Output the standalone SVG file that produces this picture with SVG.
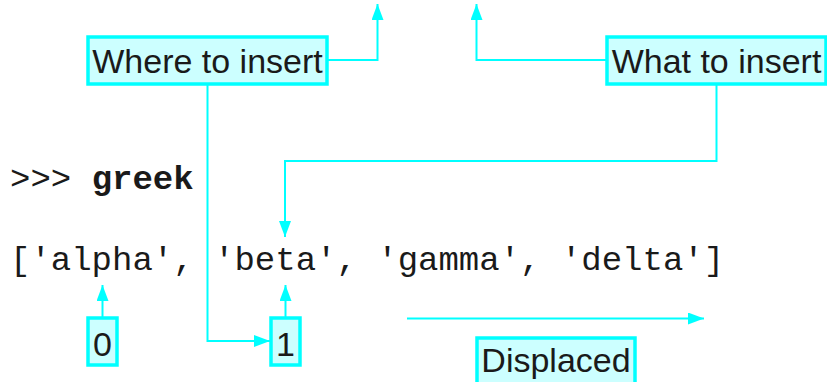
<svg xmlns="http://www.w3.org/2000/svg" width="827" height="382" viewBox="0 0 827 382">
<defs>
<style>
.box{fill:#ccffff;stroke:#00ffff;stroke-width:3.5}
.lbl{font-family:"Liberation Sans",Arial,sans-serif;font-size:34px;fill:#1a1a1a;text-anchor:middle}
.code{font-family:"Liberation Mono","Courier New",monospace;font-size:34px;fill:#1a1a1a}
.con{fill:none;stroke:#00ffff;stroke-width:2;marker-end:url(#arr)}
</style>
<marker id="arr" markerUnits="userSpaceOnUse" markerWidth="16" markerHeight="12" refX="16" refY="6" orient="auto">
<path d="M0,0 L16,6 L0,12 Z" fill="#00ffff"/>
</marker>
</defs>
<rect width="827" height="382" fill="#ffffff"/>
<g id="connectors">
<path class="con" d="M327,60 H377.5 V4"/>
<path class="con" d="M607,60 H476.5 V4"/>
<path class="con" d="M207.5,84 V341 H270"/>
<path class="con" d="M716.5,84 V161 H285 V237"/>
<path class="con" d="M102.5,318 V285"/>
<path class="con" d="M285.5,318 V285"/>
<path class="con" d="M407,318.5 H704"/>
</g>
<g id="code">
<text class="code" x="10" y="189"><tspan>&gt;&gt;&gt; </tspan><tspan font-weight="bold">greek</tspan></text>
<text class="code" x="10" y="270">['alpha', 'beta', 'gamma', 'delta']</text>
</g>
<g id="where">
<rect class="box" x="88" y="37" width="239" height="47"/>
<text class="lbl" x="207.5" y="72.5">Where to insert</text>
</g>
<g id="what">
<rect class="box" x="607" y="37" width="219" height="47"/>
<text class="lbl" x="716.5" y="72.5">What to insert</text>
</g>
<g id="idx0">
<rect class="box" x="88" y="318" width="29" height="47"/>
<text class="lbl" x="102.5" y="356">0</text>
</g>
<g id="idx1">
<rect class="box" x="271" y="318" width="29" height="47"/>
<text class="lbl" x="285.5" y="356">1</text>
</g>
<g id="displaced">
<rect class="box" x="477" y="338" width="158" height="48"/>
<text class="lbl" x="556" y="372">Displaced</text>
</g>
</svg>
